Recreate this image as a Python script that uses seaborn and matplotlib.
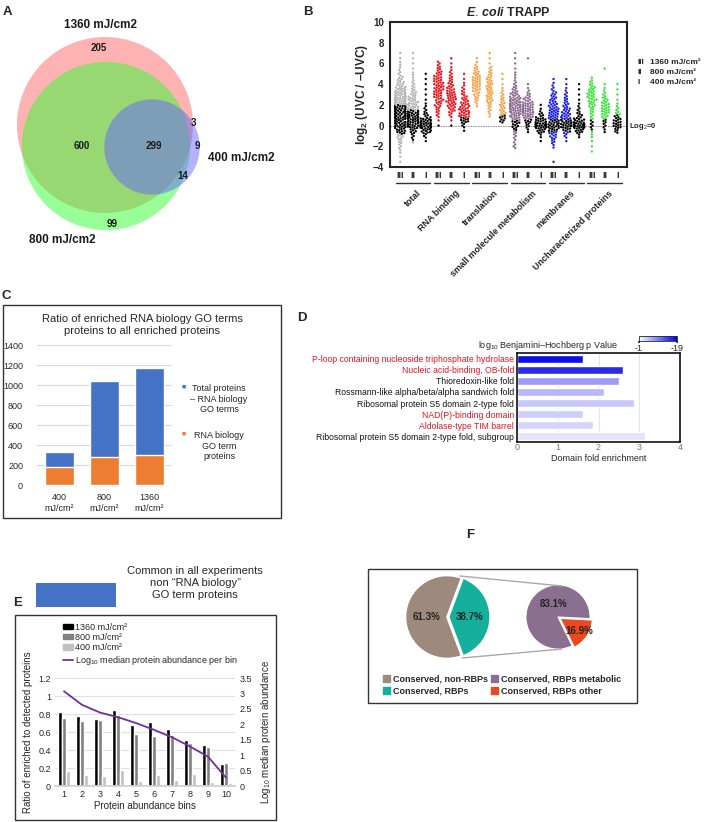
import numpy as np
import pandas as pd
import matplotlib
matplotlib.use("Agg")
import matplotlib.pyplot as plt
import seaborn as sns
from matplotlib.patches import Circle, Rectangle, Patch
from matplotlib.lines import Line2D
from matplotlib.colors import LinearSegmentedColormap, Normalize
from matplotlib.cm import ScalarMappable
from matplotlib.ticker import FuncFormatter
from matplotlib.transforms import blended_transform_factory

# ==================================================
# Daten
# ==================================================
# A: Venn (Anzahl Proteine pro Region)
VENN_NAMES = ["1360 mJ/cm2", "800 mJ/cm2", "400 mJ/cm2"]
VENN_ONLY_1360 = 205
VENN_1360_800 = 600
VENN_ALL = 299
VENN_1360_400 = 3
VENN_ONLY_400 = 9
VENN_800_400 = 14
VENN_ONLY_800 = 99

# B: log2 (UVC/-UVC), Zaehlwerte je 0.5er Bin
B_GROUPS = ["total", "RNA binding", "translation", "small molecule metabolism",
            "membranes", "Uncharacterized proteins"]
B_DOSES = ["III", "II", "I"]
B_BINS = [-3.5, -3.0, -2.5, -2.0, -1.5, -1.0, -0.5, 0.0, 0.5, 1.0, 1.5,
          2.0, 2.5, 3.0, 3.5, 4.0, 4.5, 5.0, 5.5, 6.0, 6.5, 7.0]
total_III = [1, 1, 2, 3, 4, 6, 9, 12, 13, 14, 15, 16, 16, 14, 11, 7, 5, 3, 2, 2, 1, 1]
total_II = [0, 0, 0, 0, 2, 3, 6, 12, 15, 15, 12, 10, 8, 6, 4, 3, 2, 2, 1, 1, 1, 1]
total_I = [0, 0, 0, 0, 1, 3, 10, 18, 12, 5, 3, 2, 1, 1, 1, 1, 1, 1, 0, 0, 0, 0]
rna_III = [0, 0, 0, 0, 0, 0, 0, 1, 1, 3, 4, 6, 7, 8, 9, 9, 8, 6, 4, 3, 0, 0]
rna_II = [0, 0, 0, 0, 0, 0, 0, 1, 1, 3, 6, 8, 9, 9, 7, 5, 4, 3, 2, 1, 1, 0]
rna_I = [0, 0, 0, 0, 0, 0, 1, 3, 8, 10, 10, 8, 6, 4, 3, 2, 1, 1, 0, 0, 0, 0]
transl_III = [0, 0, 0, 0, 0, 0, 0, 0, 0, 0, 0, 2, 4, 5, 7, 8, 8, 6, 4, 2, 1, 0]
transl_II = [0, 0, 0, 0, 0, 0, 0, 0, 0, 2, 3, 4, 6, 6, 6, 6, 5, 4, 3, 1, 1, 1]
transl_I = [0, 0, 0, 0, 0, 0, 0, 0, 5, 6, 5, 5, 4, 3, 2, 1, 1, 1, 0, 0, 0, 0]
small_III = [0, 0, 0, 3, 2, 3, 4, 6, 8, 11, 13, 14, 12, 8, 5, 3, 2, 2, 1, 1, 1, 1]
small_II = [0, 0, 0, 0, 0, 0, 2, 4, 7, 11, 13, 11, 7, 4, 2, 1, 0, 0, 0, 0, 1, 0]
small_I = [0, 0, 0, 0, 1, 2, 8, 18, 11, 5, 2, 1, 0, 0, 0, 0, 0, 0, 0, 0, 0, 0]
memb_III = [1, 0, 0, 2, 4, 6, 9, 12, 10, 10, 10, 8, 6, 5, 3, 2, 1, 0, 0, 0, 0, 0]
memb_II = [0, 0, 0, 0, 1, 3, 7, 12, 11, 9, 7, 5, 4, 3, 2, 1, 1, 0, 0, 0, 0, 0]
memb_I = [0, 0, 0, 0, 0, 2, 8, 18, 10, 5, 3, 2, 1, 1, 1, 1, 0, 0, 0, 0, 0, 0]
unchar_III = [0, 0, 1, 1, 1, 2, 2, 3, 3, 3, 4, 6, 7, 7, 6, 4, 2, 0, 0, 0, 0, 0]
unchar_II = [0, 0, 0, 0, 0, 0, 2, 3, 4, 6, 8, 7, 5, 3, 2, 1, 0, 0, 1, 0, 0, 0]
unchar_I = [0, 0, 0, 0, 0, 0, 4, 8, 7, 5, 3, 2, 1, 1, 1, 1, 0, 0, 0, 0, 0, 0]
# Wertebereich, in dem die Punkte schwarz (nicht signifikant) sind
B_BLACK = [[(-0.8, 2.0), (-1.6, 1.5), (-9, 9)],
           [(-9, 0.3), (-9, 0.3), (-9, 0.8)],
           [(-9, -9), (-9, -9), (-9, 1.0)],
           [(-0.5, 0.5), (-9, 0.6), (-9, 9)],
           [(-0.6, 0.6), (-0.6, 0.6), (-9, 9)],
           [(-0.5, 0.5), (-9, 0.6), (-9, 1.0)]]
B_LEGEND_DOSES = ["1360 mJ/cm\u00b2", "800 mJ/cm\u00b2", "400 mJ/cm\u00b2"]

# C: gestapelte Balken
C_DOSES = ["400\nmJ/cm\u00b2", "800\nmJ/cm\u00b2", "1360\nmJ/cm\u00b2"]
C_TOTAL = [330, 1040, 1165]
C_RNA = [175, 275, 300]

# D: Domain fold enrichment
D_DOMAINS = ["P-loop containing nucleoside triphosphate hydrolase",
             "Nucleic acid-binding, OB-fold",
             "Thioredoxin-like fold",
             "Rossmann-like alpha/beta/alpha sandwich fold",
             "Ribosomal protein S5 domain 2-type fold",
             "NAD(P)-binding domain",
             "Aldolase-type TIM barrel",
             "Ribosomal protein S5 domain 2-type fold, subgroup"]
D_ENRICH = [1.63, 2.61, 2.51, 2.14, 2.87, 1.63, 1.86, 3.13]
D_NEGLOGP = [18, 16, 8, 6, 5, 4.5, 4, 3]
D_RED = [True, True, False, False, False, True, True, False]

# E: Ratio je Abundanz-Bin
E_BINS = ["1", "2", "3", "4", "5", "6", "7", "8", "9", "10"]
E_DOSES = ["1360 mJ/cm\u00b2", "800 mJ/cm\u00b2", "400 mJ/cm\u00b2"]
E_1360 = [0.82, 0.78, 0.74, 0.84, 0.68, 0.71, 0.63, 0.51, 0.46, 0.24]
E_800 = [0.76, 0.72, 0.73, 0.79, 0.58, 0.56, 0.57, 0.48, 0.43, 0.26]
E_400 = [0.17, 0.12, 0.11, 0.18, 0.06, 0.12, 0.07, 0.13, 0.05, 0.03]
E_ABUND = [3.07, 2.63, 2.38, 2.23, 2.04, 1.82, 1.58, 1.28, 0.95, 0.27]

# F: Tortendiagramme
F_OUTER = [61.3, 38.7]
F_INNER = [83.1, 16.9]
F_LABELS = ["Conserved, non-RBPs", "Conserved, RBPs",
            "Conserved, RBPs metabolic", "Conserved, RBPs other"]
F_COLORS = ["#9e8a7c", "#14b09c", "#8b6f90", "#e8491f"]

# ==================================================
# Layout
# ==================================================
W, H = 709, 822
sns.set_theme(style="white")
plt.rcParams["font.family"] = ["Liberation Sans", "DejaVu Sans"]
plt.rcParams["mathtext.fontset"] = "custom"
plt.rcParams["mathtext.rm"] = "Liberation Sans"
plt.rcParams["mathtext.bf"] = "Liberation Sans:bold"
plt.rcParams["mathtext.it"] = "Liberation Sans:italic:bold"

fig = plt.figure(figsize=(W / 100, H / 100), dpi=100)


def rect(x0, y0, x1, y1):
    return [x0 / W, 1 - y1 / H, (x1 - x0) / W, (y1 - y0) / H]


def ftext(x, y, s, **kw):
    return fig.text(x / W, 1 - y / H, s, **kw)


def fbox(x0, y0, x1, y1, lw=1.0, ec="#333333"):
    fig.add_artist(Rectangle((x0 / W, 1 - y1 / H), (x1 - x0) / W, (y1 - y0) / H,
                             transform=fig.transFigure, fill=False, ec=ec, lw=lw))


def fline(x0, y0, x1, y1, **kw):
    fig.add_artist(Line2D([x0 / W, x1 / W], [1 - y0 / H, 1 - y1 / H],
                          transform=fig.transFigure, **kw))


for lab, x, y in [("A", 7, 12), ("B", 308, 12), ("C", 6, 296), ("D", 302, 318),
                  ("E", 18, 603), ("F", 470, 535)]:
    ftext(x, y, lab, fontsize=9.5, weight="bold", ha="center", va="center")

# ==================================================
# A: Venn
# ==================================================
axA = fig.add_axes(rect(0, 0, 300, 260))
axA.set_xlim(0, 300)
axA.set_ylim(260, 0)
axA.axis("off")
n1360 = VENN_ONLY_1360 + VENN_1360_800 + VENN_ALL + VENN_1360_400
n800 = VENN_ONLY_800 + VENN_1360_800 + VENN_ALL + VENN_800_400
n400 = VENN_ONLY_400 + VENN_1360_400 + VENN_ALL + VENN_800_400
scale = 2.645
axA.add_patch(Circle((105, 125), scale * np.sqrt(n1360), color=(1, 0.4, 0.4), alpha=0.5, lw=0))
axA.add_patch(Circle((106, 146), scale * np.sqrt(n800), color=(0.2, 1, 0.2), alpha=0.5, lw=0))
axA.add_patch(Circle((152, 147), scale * np.sqrt(n400), color=(0.4, 0.4, 1), alpha=0.5, lw=0))
for val, (x, y) in zip([VENN_ONLY_1360, VENN_1360_800, VENN_ALL, VENN_1360_400,
                        VENN_ONLY_400, VENN_800_400, VENN_ONLY_800],
                       [(99, 48), (82, 146), (154, 146), (193, 123), (197, 146),
                        (183, 176), (112, 224)]):
    axA.text(x, y, str(val), ha="center", va="center", fontsize=7, weight="bold", color="#1a1a1a")
for name, (x, y) in zip(VENN_NAMES, [(100, 25), (62, 240), (241, 158)]):
    axA.text(x, y, name, ha="center", va="center", fontsize=8.5, weight="bold", color="#1a1a1a")

# ==================================================
# B: Swarm
# ==================================================
b_counts = [[total_III, total_II, total_I], [rna_III, rna_II, rna_I],
            [transl_III, transl_II, transl_I], [small_III, small_II, small_I],
            [memb_III, memb_II, memb_I], [unchar_III, unchar_II, unchar_I]]
b_pal = {"total": "#b4b4b4", "RNA binding": "#e8141c", "translation": "#f5a146",
         "small molecule metabolism": "#8a6a8e", "membranes": "#1a1ae6",
         "Uncharacterized proteins": "#36e636", "black": "#000000"}
rows = []
col_order = []
for g, group in enumerate(B_GROUPS):
    for d, dose in enumerate(B_DOSES):
        key = f"{group}|{dose}"
        col_order.append(key)
        lo, hi = B_BLACK[g][d]
        for c, n in zip(B_BINS, b_counts[g][d]):
            for i in range(n):
                v = c - 0.25 + (i + 0.5) * 0.5 / n
                rows.append((key, v, "black" if lo <= v <= hi else group))
dfB = pd.DataFrame(rows, columns=["col", "value", "shade"])

axB = fig.add_axes(rect(390, 22, 627, 167))
sns.swarmplot(data=dfB, x="col", y="value", hue="shade", palette=b_pal, order=col_order,
              size=1.7, linewidth=0, legend=False, warn_thresh=1.0, ax=axB)
axB.axhline(0, color="#888888", lw=0.6, ls=(0, (2, 1)), zorder=0)
axB.set_xlim(-0.8, 17.75)
axB.set_ylim(-4, 10)
axB.set_yticks(range(-4, 11, 2))
axB.set_xticks(range(18))
axB.set_xticklabels(B_DOSES * 6)
axB.tick_params(axis="both", labelsize=7, length=3, width=1.2, pad=1.5, direction="out")
axB.tick_params(axis="x", length=0, pad=3, labelsize=6.5)
for t in axB.get_xticklabels() + axB.get_yticklabels():
    t.set_fontweight("bold")
for s in axB.spines.values():
    s.set_linewidth(1.5)
    s.set_color("#222222")
axB.set_xlabel("")
axB.set_ylabel("log$_{\\mathbf{2}}$ (UVC / \u2013UVC)", fontsize=8.5, weight="bold", labelpad=2)
axB.set_title("$E.\\,coli$ TRAPP", fontsize=9, weight="bold", pad=4)
trB = blended_transform_factory(axB.transData, axB.transAxes)
for g, group in enumerate(B_GROUPS):
    axB.plot([3 * g - 0.35, 3 * g + 2.35], [-0.11, -0.11], transform=trB, color="#333333",
             lw=1.0, clip_on=False)
    axB.text(3 * g + 1.3, -0.15, group, transform=trB, rotation=45, ha="right", va="top",
             rotation_mode="anchor", fontsize=6.5, weight="bold")
ftext(629, 126, "Log$_2$=0", fontsize=5.5, weight="bold", va="center")
for i, (num, lab) in enumerate(zip(B_DOSES, B_LEGEND_DOSES)):
    ftext(637, 62 + i * 10, num, fontsize=6, weight="bold", va="center")
    ftext(650, 62 + i * 10, lab, fontsize=6, weight="bold", va="center")

# ==================================================
# C: gestapelte Balken
# ==================================================
fbox(3, 305, 281, 518)
ftext(142, 325, "Ratio of enriched RNA biology GO terms\nproteins to all enriched proteins",
      ha="center", va="center", fontsize=8, linespacing=1.25)
axC = fig.add_axes(rect(37, 345, 172, 485))
sns.barplot(x=C_DOSES, y=C_TOTAL, color="#4472c4", width=0.64, saturation=1, ax=axC)
sns.barplot(x=C_DOSES, y=C_RNA, color="#ed7d31", width=0.64, saturation=1, ax=axC)
axC.set_ylim(0, 1400)
axC.set_yticks(range(0, 1401, 200))
axC.yaxis.grid(True, color="#d9d9d9", lw=0.8)
axC.set_axisbelow(True)
sns.despine(ax=axC, left=True, bottom=True)
axC.tick_params(axis="both", length=0, labelsize=6.5, pad=6)
axC.tick_params(axis="y", pad=10)
for x, y, s, col in [(184, 387, "\u25a0", "#4472c4"), (184, 434, "\u25a0", "#ed7d31")]:
    ftext(x, y, s, color=col, fontsize=5, ha="center", va="center")
ftext(219, 399, "Total proteins\n\u2013 RNA biology\nGO terms", ha="center", va="center",
      fontsize=6.5, linespacing=1.15)
ftext(219, 446, "RNA biology\nGO term\nproteins", ha="center", va="center",
      fontsize=6.5, linespacing=1.15)

# ==================================================
# D: Domains
# ==================================================
cmapD = LinearSegmentedColormap.from_list("wb", ["#ffffff", "#0000e6"])
normD = Normalize(1, 19)
axD = fig.add_axes(rect(517, 353, 680, 442))
sns.barplot(x=D_ENRICH, y=D_DOMAINS, hue=D_DOMAINS, palette=[cmapD(normD(v)) for v in D_NEGLOGP],
            legend=False, width=0.72, saturation=1, orient="h", ax=axD)
axD.set_xlim(0, 4)
axD.set_xticks(range(5))
axD.xaxis.grid(True, color="#e4e4e4", lw=0.8)
axD.set_axisbelow(True)
axD.tick_params(axis="both", length=0, labelsize=6.2, pad=2)
axD.tick_params(axis="x", labelsize=6.5, labelcolor="#777777", pad=1)
for t, red in zip(axD.get_yticklabels(), D_RED):
    t.set_color("#e8141c" if red else "#111111")
for s in axD.spines.values():
    s.set_linewidth(1.2)
    s.set_color("#111111")
axD.set_ylabel("")
axD.set_xlabel("Domain fold enrichment", fontsize=6.5, labelpad=1)
caxD = fig.add_axes(rect(639, 336, 677, 341))
cb = fig.colorbar(ScalarMappable(norm=normD, cmap=cmapD), cax=caxD, orientation="horizontal")
cb.set_ticks([1, 19])
cb.set_ticklabels(["-1", "-19"])
cb.ax.tick_params(labelsize=6.5, length=1.5, pad=0.5)
cb.outline.set_linewidth(0.6)
ftext(618, 345, "log$_{10}$ Benjamini\u2013Hochberg p Value", ha="right", va="center", fontsize=6.5)

# ==================================================
# E: Balken + Linie
# ==================================================
fig.add_artist(Rectangle((36 / W, 1 - 607 / H), 80 / W, 24 / H, transform=fig.transFigure,
                         color="#4472c4", lw=0))
ftext(195, 583, "Common in all experiments\nnon \u201cRNA biology\u201d\nGO term proteins",
      ha="center", va="center", fontsize=8, linespacing=1.2)
fbox(15, 615, 276, 820)
dfE = pd.DataFrame({"bin": E_BINS * 3,
                    "dose": [E_DOSES[0]] * 10 + [E_DOSES[1]] * 10 + [E_DOSES[2]] * 10,
                    "ratio": E_1360 + E_800 + E_400})
axE = fig.add_axes(rect(55, 678, 235, 786))
sns.barplot(data=dfE, x="bin", y="ratio", hue="dose", hue_order=E_DOSES, order=E_BINS,
            palette=["#000000", "#808080", "#c0c0c0"], width=0.7, saturation=1,
            legend=False, ax=axE)
axE.set_ylim(0, 1.2)
axE.set_yticks(np.arange(0, 1.21, 0.2))
axE.yaxis.set_major_formatter(FuncFormatter(lambda v, p: f"{v:g}"))
axE.yaxis.grid(True, color="#e0e0e0", lw=0.8)
axE.set_axisbelow(True)
axE2 = axE.twinx()
sns.lineplot(x=list(range(10)), y=E_ABUND, color="#7030a0", lw=1.3, ax=axE2)
axE2.set_ylim(0, 3.5)
axE2.set_yticks(np.arange(0, 3.51, 0.5))
axE2.yaxis.set_major_formatter(FuncFormatter(lambda v, p: f"{v:g}"))
axE.set_xlim(-0.5, 9.5)
for a in (axE, axE2):
    sns.despine(ax=a, left=True, right=True, top=True, bottom=True)
    a.tick_params(axis="both", length=0, labelsize=6.5, pad=3)
axE.spines["bottom"].set_visible(True)
axE.spines["bottom"].set_color("#d0d0d0")
axE.set_xlabel("Protein abundance bins", fontsize=7, labelpad=1)
axE.set_ylabel("Ratio of enriched to detected proteins", fontsize=7, labelpad=4)
axE2.set_ylabel("Log$_{10}$ median protein abundance", fontsize=7, labelpad=5)
handlesE = [Patch(color="#000000"), Patch(color="#808080"), Patch(color="#c0c0c0"),
            Line2D([], [], color="#7030a0", lw=1.3)]
fig.legend(handlesE, E_DOSES + ["Log$_{10}$ median protein abundance per bin"],
           loc="upper left", bbox_to_anchor=(58 / W, 1 - 618 / H), frameon=False,
           fontsize=6.5, handlelength=1.2, handleheight=0.5, labelspacing=0.15,
           handletextpad=0.2, borderpad=0)

# ==================================================
# F: Torten
# ==================================================
fbox(368, 569, 637, 703)
axF1 = fig.add_axes(rect(403, 573, 491, 661))
w1, t1, a1 = axF1.pie(F_OUTER, colors=F_COLORS[:2], startangle=69.7, explode=[0, 0.04],
                      autopct="%.1f%%", pctdistance=0.5,
                      wedgeprops=dict(edgecolor="white", lw=1.2),
                      textprops=dict(fontsize=7, weight="bold", color="#222222"))
axF1.set_xlim(-1.06, 1.06)
axF1.set_ylim(-1.06, 1.06)
axF2 = fig.add_axes(rect(524, 583, 592, 651))
w2, t2, a2 = axF2.pie(F_INNER, colors=F_COLORS[2:], startangle=-3, explode=[0, 0.08],
                      autopct="%.1f%%", pctdistance=0.72,
                      wedgeprops=dict(edgecolor="white", lw=0.8),
                      textprops=dict(fontsize=7, weight="bold", color="#222222"))
a2[0].set_position((-0.15, 0.42))
axF2.set_xlim(-1.06, 1.06)
axF2.set_ylim(-1.06, 1.06)
fline(460, 576, 562, 586, color="#a8a8a8", lw=1.0)
fline(462, 658, 562, 649, color="#a8a8a8", lw=1.0)
fig.legend([Patch(color=c) for c in F_COLORS], F_LABELS, ncol=2, loc="center",
           bbox_to_anchor=(502 / W, 1 - 685 / H), frameon=False,
           prop=dict(size=6.5, weight="bold"), handlelength=0.8, handleheight=0.8,
           handletextpad=0.3, columnspacing=0.4, labelspacing=0.3, borderpad=0)

fig.savefig("out.png", dpi=100)
